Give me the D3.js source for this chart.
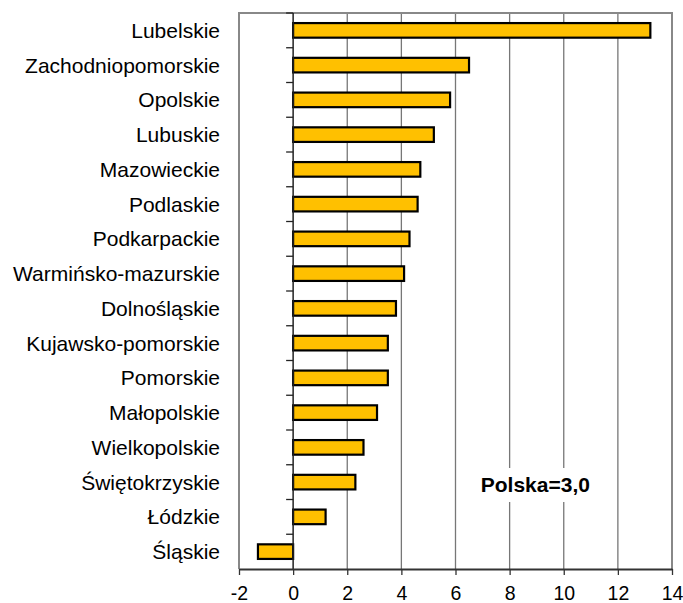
<!DOCTYPE html>
<html>
<head>
<meta charset="utf-8">
<script src="https://cdn.jsdelivr.net/npm/d3@7"></script>
<style>
  body { margin: 0; background: #fff; }
  svg { display: block; }
  text { font-family: "Liberation Sans", Arial, sans-serif; fill: #000; }
</style>
</head>
<body>
<div id="chart"></div>
<script>
// regions, top to bottom
var regions = ["Lubelskie", "Zachodniopomorskie", "Opolskie", "Lubuskie", "Mazowieckie",
  "Podlaskie", "Podkarpackie", "Warmińsko-mazurskie", "Dolnośląskie", "Kujawsko-pomorskie",
  "Pomorskie", "Małopolskie", "Wielkopolskie", "Świętokrzyskie", "Łódzkie", "Śląskie"];
var values = [13.2, 6.5, 5.8, 5.2, 4.7, 4.6, 4.3, 4.1, 3.8, 3.5, 3.5, 3.1, 2.6, 2.3, 1.2, -1.3];
var xTicks = [-2, 0, 2, 4, 6, 8, 10, 12, 14];
var note = "Polska=3,0";

var width = 683, height = 603;
var margin = {top: 13, right: 11, bottom: 34, left: 239};
var plotTop = margin.top, plotBottom = height - margin.bottom;

var svg = d3.select("#chart").append("svg")
    .attr("width", width)
    .attr("height", height);

var x = d3.scaleLinear()
    .domain([-2, 14])
    .range([margin.left, width - margin.right]);

var y = d3.scaleBand()
    .domain(regions)
    .range([plotTop, plotBottom])
    .paddingInner(0.58)
    .paddingOuter(0.29);

// category boundaries for the tick marks
var yb = d3.scaleLinear()
    .domain([0, regions.length])
    .range([plotTop, plotBottom]);

// grid lines
svg.append("g")
  .selectAll("line")
  .data(xTicks.filter(d => d > 0 && d < 14))
  .join("line")
    .attr("x1", d => x(d)).attr("x2", d => x(d))
    .attr("y1", plotTop).attr("y2", plotBottom)
    .attr("stroke", "#777")
    .attr("stroke-width", 1.3);

// frame (left, top, right)
svg.append("path")
    .attr("d", `M${x(-2)},${plotBottom}V${plotTop}H${x(14)}V${plotBottom}`)
    .attr("fill", "none")
    .attr("stroke", "#888")
    .attr("stroke-width", 2);

// note with white background
svg.append("rect")
    .attr("x", x(6.5)).attr("y", 468)
    .attr("width", x(11.5) - x(6.5)).attr("height", 34)
    .attr("fill", "#fff");

svg.append("text")
    .attr("x", x(8.95)).attr("y", 492)
    .attr("text-anchor", "middle")
    .style("font-size", "21px")
    .style("font-weight", "bold")
    .text(note);

// bars
svg.append("g")
  .selectAll("rect")
  .data(values)
  .join("rect")
    .attr("x", d => x(Math.min(0, d)))
    .attr("width", d => Math.abs(x(d) - x(0)))
    .attr("y", (d, i) => y(regions[i]))
    .attr("height", y.bandwidth())
    .attr("fill", "#FFC000")
    .attr("stroke", "#000")
    .attr("stroke-width", 2.2);

// category axis at zero
var yAxis = svg.append("g");
yAxis.append("line")
    .attr("x1", x(0)).attr("x2", x(0))
    .attr("y1", plotTop).attr("y2", plotBottom)
    .attr("stroke", "#222")
    .attr("stroke-width", 1.5);
yAxis.selectAll("line.tick")
  .data(d3.range(regions.length))
  .join("line")
    .attr("class", "tick")
    .attr("x1", x(0) - 7).attr("x2", x(0))
    .attr("y1", d => yb(d)).attr("y2", d => yb(d))
    .attr("stroke", "#222")
    .attr("stroke-width", 1.3);

// category labels
svg.append("g")
  .selectAll("text")
  .data(regions)
  .join("text")
    .attr("x", 220)
    .attr("y", d => y(d) + y.bandwidth() / 2 + 7.5)
    .attr("text-anchor", "end")
    .style("font-size", "21px")
    .text(d => d);

// x axis
var xAxis = svg.append("g")
    .attr("transform", `translate(0,${plotBottom})`)
    .call(d3.axisBottom(x).tickValues(xTicks).tickSize(6).tickSizeOuter(0).tickFormat(d3.format("d")));
xAxis.select(".domain").attr("stroke", "#333").attr("stroke-width", 2);
xAxis.selectAll(".tick line").attr("stroke", "#333").attr("stroke-width", 1.3);
xAxis.selectAll(".tick text")
    .attr("y", 30.5).attr("dy", 0)
    .style("font-size", "19.5px")
    .style("font-family", "'Liberation Sans', Arial, sans-serif")
    .text(d => d < 0 ? "-" + Math.abs(d) : d);
</script>
</body>
</html>
